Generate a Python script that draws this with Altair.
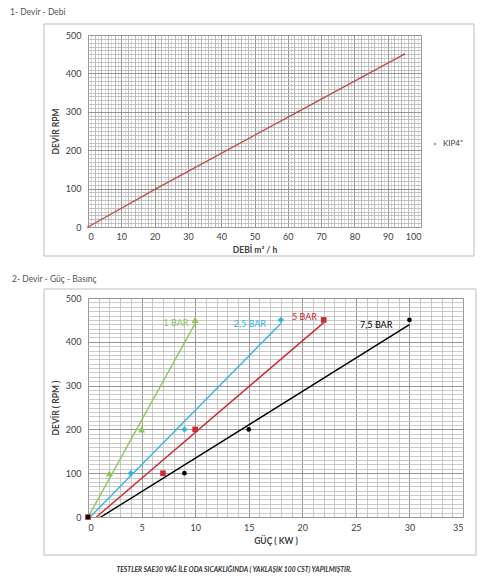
import altair as alt
import pandas as pd

# ---- chart 1 data: Devir - Debi ----
debi = [0, 20.5, 63, 95]
devir1 = [0, 100, 300, 450]
seri1 = "KIP4\""

# ---- chart 2 data: Devir - Güç - Basınç ----
bar_names = ["1 BAR", "2,5 BAR", "5 BAR", "7,5 BAR"]
devir2 = [0, 100, 200, 450]
guc_1bar = [0, 2, 5, 10]
guc_25bar = [0, 4, 9, 18]
guc_5bar = [0, 7, 10, 22]
guc_75bar = [0, 9, 15, 30]
bar_colors = ["#8cc85a", "#35b4e2", "#cc2a36", "#000000"]
label_colors = ["#8cc85a", "#5e88b8", "#cc2a36", "#202020"]
label_guc = [8.2, 15.1, 20.2, 26.9]
label_devir = [442, 440, 456, 439]

FONT = "Lato"

df1 = pd.DataFrame({"debi": debi, "devir": devir1, "seri": [seri1] * len(debi)})

rows = []
for name, gl in zip(bar_names, [guc_1bar, guc_25bar, guc_5bar, guc_75bar]):
    for g, d in zip(gl, devir2):
        rows.append({"guc": g, "devir": d, "seri": name})
df2 = pd.DataFrame(rows)
df_lab = pd.DataFrame({"guc": label_guc, "devir": label_devir, "seri": bar_names})
one = pd.DataFrame({"a": [0]})


def grid_cond(major, mid, minor_col="#d4d4d4"):
    return {
        "condition": [
            {"test": f"datum.value % {major} === 0", "value": "#7d7d7d"},
            {"test": f"datum.value % {mid} === 0", "value": "#a9a9a9"},
        ],
        "value": minor_col,
    }


def label_only(major):
    return f"datum.value % {major} === 0 ? datum.label : ''"


# ---------------- Chart 1 ----------------
W1, H1 = 333, 192
x1 = alt.X(
    "debi:Q",
    scale=alt.Scale(domain=[0, 100], nice=False),
    axis=alt.Axis(
        values=list(range(0, 101, 1)),
        tickCount=1000, format="d",
        labelExpr=label_only(10),
        gridColor=grid_cond(10, 2),
        title="DEBİ m³ / h",
        labelPadding=5,
        titlePadding=4,
    ),
)
y1 = alt.Y(
    "devir:Q",
    scale=alt.Scale(domain=[0, 500], nice=False),
    axis=alt.Axis(
        values=list(range(0, 501, 10)),
        tickCount=1000, format="d",
        labelExpr=label_only(100),
        gridColor=grid_cond(100, 100, "#b4b4b4"),
        title="DEVİR RPM",
        labelPadding=7,
        titlePadding=5,
    ),
)
col1 = alt.Color(
    "seri:N",
    scale=alt.Scale(domain=[seri1], range=["#c0504d"]),
    legend=alt.Legend(
        orient="none", legendX=343, legendY=105, title=None,
        symbolType="diamond", symbolSize=10, labelFontSize=8,
        labelFont=FONT, labelColor="#404040", symbolStrokeWidth=0,
    ),
)
line1 = alt.Chart(df1).mark_line(strokeWidth=1.4).encode(x=x1, y=y1, color=col1)
pts1 = alt.Chart(df1).mark_point(filled=True, size=8, shape="diamond").encode(
    x="debi:Q", y="devir:Q", color=col1
)
frame1 = alt.Chart(one).mark_rect(fill=None, stroke="#bdbdbd", strokeWidth=1).encode(
    x=alt.value(-44), x2=alt.value(386), y=alt.value(-11), y2=alt.value(221)
)
title1 = alt.Chart(one).mark_text(
    align="left", baseline="middle", fontSize=8.5, font=FONT, color="#555555"
).encode(x=alt.value(-78), y=alt.value(-23), text=alt.value("1- Devir - Debi"))

chart1 = alt.layer(frame1, title1, line1, pts1).properties(width=W1, height=H1)

# ---------------- Chart 2 ----------------
W2, H2 = 375, 219
x2 = alt.X(
    "guc:Q",
    scale=alt.Scale(domain=[0, 35], nice=False),
    axis=alt.Axis(
        values=list(range(0, 36, 1)),
        tickCount=1000, format="d",
        labelExpr=label_only(5),
        gridColor=grid_cond(5, 5, "#bdbdbd"),
        title="GÜÇ ( KW )",
        labelPadding=6,
        titlePadding=4,
    ),
)
y2 = alt.Y(
    "devir:Q",
    scale=alt.Scale(domain=[0, 500], nice=False),
    axis=alt.Axis(
        values=list(range(0, 501, 10)),
        tickCount=1000, format="d",
        labelExpr=label_only(100),
        gridColor=grid_cond(100, 100, "#bdbdbd"),
        title="DEVİR ( RPM )",
        labelPadding=7,
        titlePadding=5,
    ),
)
col2 = alt.Color("seri:N", scale=alt.Scale(domain=bar_names, range=bar_colors), legend=None)
shape2 = alt.Shape(
    "seri:N",
    scale=alt.Scale(domain=bar_names, range=["triangle-up", "diamond", "square", "circle"]),
    legend=None,
)
size2 = alt.Size("seri:N", scale=alt.Scale(domain=bar_names, range=[50, 22, 26, 50]), legend=None)

trend = (
    alt.Chart(df2)
    .transform_regression("guc", "devir", groupby=["seri"])
    .mark_line(strokeWidth=1.4, clip=True)
    .encode(x=x2, y=y2, color=col2)
)
pts2 = alt.Chart(df2).mark_point(filled=True, opacity=1).encode(
    x="guc:Q", y="devir:Q", color=col2, shape=shape2, size=size2
)
labels2 = alt.Chart(df_lab).mark_text(fontSize=9, font=FONT).encode(
    x="guc:Q", y="devir:Q", text="seri:N",
    color=alt.Color("seri:N", scale=alt.Scale(domain=bar_names, range=label_colors), legend=None),
)
frame2 = alt.Chart(one).mark_rect(fill=None, stroke="#bdbdbd", strokeWidth=1).encode(
    x=alt.value(-44), x2=alt.value(388), y=alt.value(-9), y2=alt.value(257)
)
title2 = alt.Chart(one).mark_text(
    align="left", baseline="middle", fontSize=8.5, font=FONT, color="#555555"
).encode(x=alt.value(-76), y=alt.value(-19), text=alt.value("2- Devir - Güç - Basınç"))
footer = alt.Chart(one).mark_text(
    align="center", baseline="middle", fontSize=6.8, font=FONT, fontStyle="italic",
    fontWeight="bold", color="#333333",
).encode(
    x=alt.value(146), y=alt.value(272),
    text=alt.value("TESTLER SAE30 YAĞ İLE ODA SICAKLIĞINDA ( YAKLAŞIK 100 CST) YAPILMIŞTIR."),
)

chart2 = alt.layer(frame2, title2, footer, trend, pts2, labels2).properties(width=W2, height=H2)

chart = (
    alt.vconcat(chart1, chart2, spacing=18)
    .resolve_scale(color="independent")
    .properties(padding={"left": 2, "top": 0, "right": 0, "bottom": 0})
    .configure_view(stroke=None)
    .configure_axis(
        labelFont=FONT, titleFont=FONT, labelFontSize=9, titleFontSize=8.5,
        labelColor="#404040", titleColor="#404040", titleFontWeight="bold",
        ticks=False, domain=False, gridWidth=0.8, labelBound=False,
        labelOverlap=False,
    )
)

chart.save("out.html", embed_options={"renderer": "svg", "actions": False})
